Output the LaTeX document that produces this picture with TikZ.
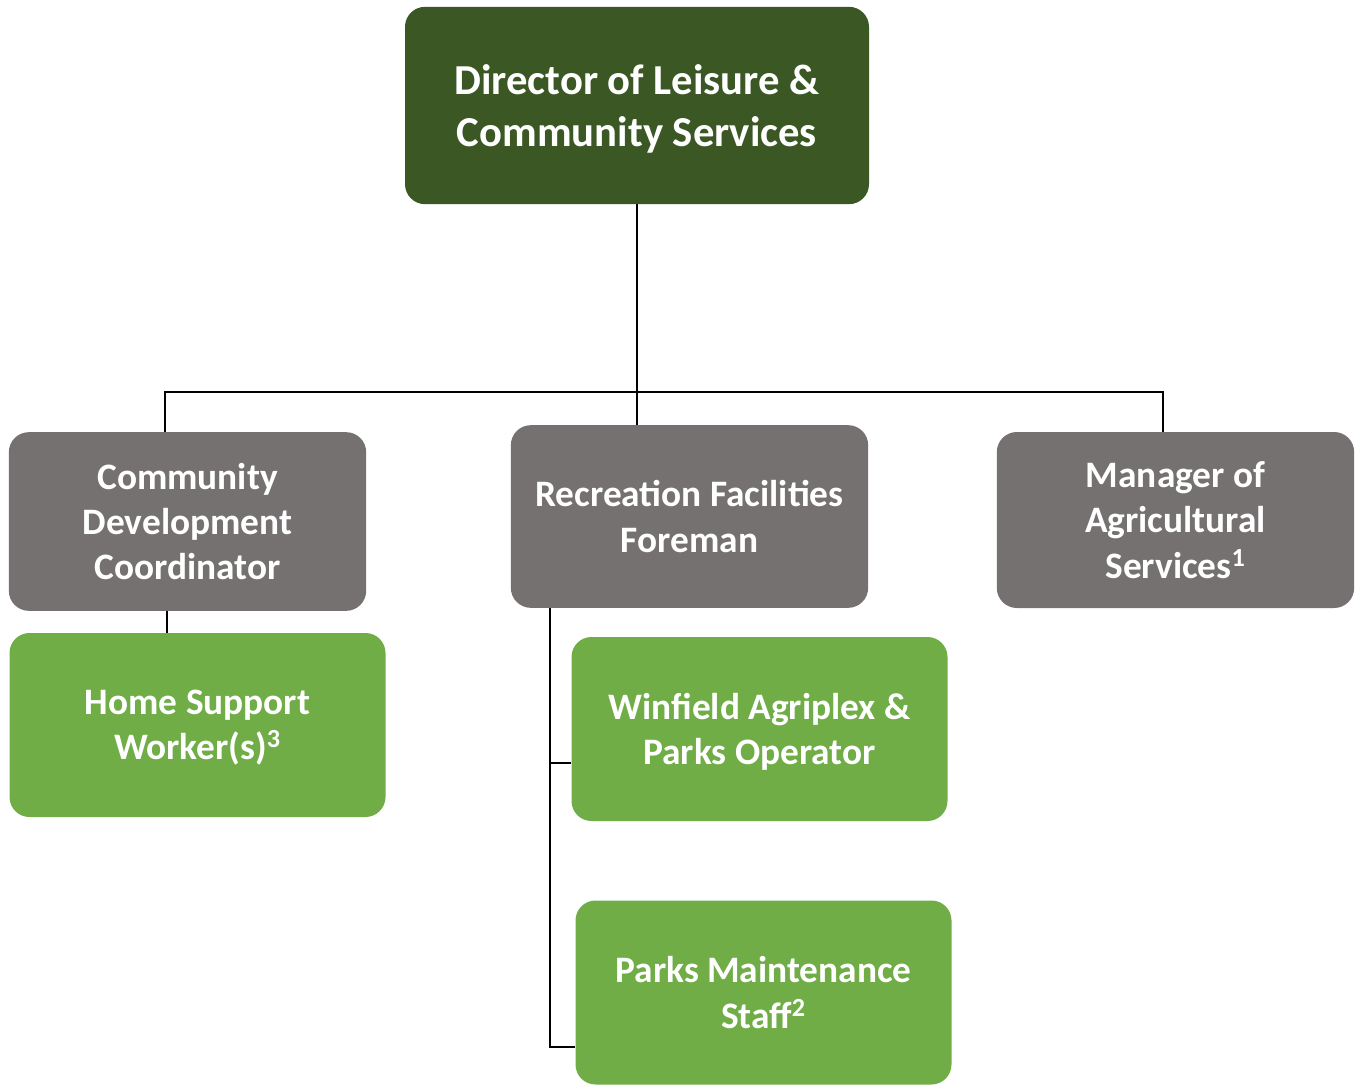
\documentclass[tikz,border=0pt]{standalone}
\usepackage{fontspec}
\setmainfont{Carlito}
\usetikzlibrary{positioning,calc}
\definecolor{darkleaf}{HTML}{3B5724}
\definecolor{stone}{HTML}{767171}
\definecolor{leaf}{HTML}{70AD47}
\begin{document}
\begin{tikzpicture}[x=0.75pt,y=-0.75pt]

\tikzstyle{unit}=[rounded corners=15pt, text=white, align=center, inner sep=0pt, text depth=-4pt, font=\bfseries\fontsize{28pt}{34pt}\selectfont]
\tikzstyle{head}=[unit, fill=darkleaf, minimum width=348pt, minimum height=148pt, font=\bfseries\fontsize{32pt}{39pt}\selectfont]
\tikzstyle{mgr}=[unit, fill=stone, minimum width=268pt]
\tikzstyle{staff}=[unit, fill=leaf, minimum width=282pt, minimum height=138pt]
\tikzstyle{link}=[line width=1.6pt]

\useasboundingbox (0,0) rectangle (1364,1085);

% director
\node(dir)[head] at (637,105.5) {Director of Leisure \&\\Community Services};

% second row
\node(cdc)[mgr, minimum height=134pt] at (187.5,521.5) {Community\\Development\\Coordinator};
\node(rff)[mgr, minimum height=137pt] at (689.5,516.5) {Recreation Facilities\\Foreman};
\node(mas)[mgr, minimum height=132pt] at (1175.5,520) {Manager of\\Agricultural\\Services\textsuperscript{1}};

% third row
\node(hsw)[staff] at (197.5,725) {Home Support\\Worker(s)\textsuperscript{3}};
\node(wapo)[staff] at (759.5,729) {Winfield Agriplex \&\\Parks Operator};
\node(pms)[staff] at (763.5,992.5) {Parks Maintenance\\Staff\textsuperscript{2}};

% connectors
\coordinate(barL) at (165,392);
\coordinate(barR) at (1163,392);
\coordinate(spine) at (550,0);
\coordinate(j1) at (550,763);
\coordinate(j2) at (550,1047);

\draw[link] (dir.south) -- (dir.south |- rff.north);
\draw[link] (barL |- cdc.north) -- (barL) -- (barR) -- (barR |- mas.north);
\draw[link] ($(barL |- cdc.south)+(2,0)$) -- ($(barL |- hsw.north)+(2,0)$);
\draw[link] (spine |- rff.south) -- (j2) -- (j2 -| pms.west);
\draw[link] (j1) -- (j1 -| wapo.west);

\end{tikzpicture}
\end{document}
